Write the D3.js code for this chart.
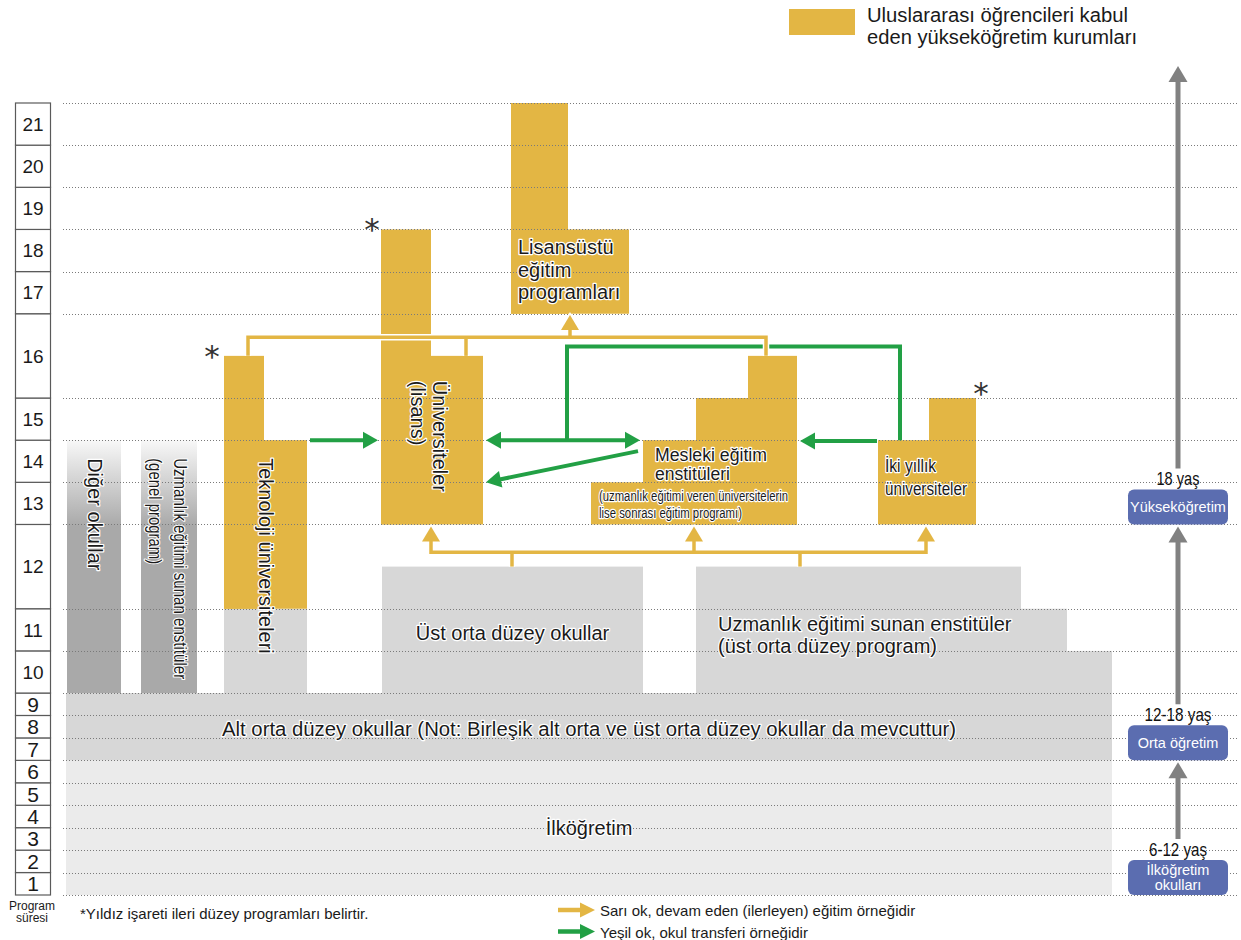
<!DOCTYPE html>
<html>
<head>
<meta charset="utf-8">
<script src="https://cdn.jsdelivr.net/npm/d3@7"></script>
<style>
    body {margin: 0; background: #fff;}
    svg {display: block; font-family: "Liberation Sans", Arial, sans-serif;}
</style>
</head>
<body>
<div id="container"></div>
<script>
// ---------- data ----------
// program years shown on the left scale
const programYears = d3.range(1, 22);
const doubleYears = [12, 16];       // rows drawn twice as tall
const compulsoryYears = 9;          // rows 1-9 are drawn compact

// year span of every school block: [id, from year, to year]
const blockYears = [
    ['ilk', 0, 6], ['alt', 6, 9],
    ['diger', 9, 14], ['uzmGenel', 9, 14],
    ['tekAlt', 9, 11], ['tek', 11, 14], ['tekKule', 11, 15.5],
    ['lisans', 12, 15.5], ['lisansKule', 12, 18],
    ['lisansustu', 16, 18], ['lisansustuKule', 16, 21],
    ['mesleki1', 12, 13], ['mesleki2', 12, 14], ['mesleki3', 12, 15], ['mesleki4', 12, 15.5],
    ['ikiYil', 12, 14], ['ikiYilKule', 12, 15],
    ['ustOrta', 9, 11.5],
    ['uzmUst1', 9, 11.5], ['uzmUst2', 9, 11], ['uzmUst3', 9, 10]
];

// blocks with an advanced (*) program
const advancedBlocks = ['tekKule', 'lisansKule', 'ikiYilKule'];

// stages on the right side
const stages = [
    {name: ['İlköğretim', 'okulları'], age: '6-12 yaş', start: 0},
    {name: ['Orta öğretim'], age: '12-18 yaş', start: 6},
    {name: ['Yükseköğretim'], age: '18 yaş', start: 12}
];

const legendTitle = ['Uluslararası öğrencileri kabul', 'eden yükseköğretim kurumları'];
const arrowLegend = ['Sarı ok, devam eden (ilerleyen) eğitim örneğidir', 'Yeşil ok, okul transferi örneğidir'];
const footnote = '*Yıldız işareti ileri düzey programları belirtir.';
const axisTitle = ['Program', 'süresi'];

// ---------- layout ----------
const W = 1241;
const H = 940;
const gridTop = 103;
const gridBottom = 895;
const gridLeft = 63;
const gridRight = 1238;
const COLORS = {
    intl: '#e3b644', dark: '#a9a9a9', mid: '#d7d7d7', light: '#ebebeb',
    green: '#22a045', arrow: '#818181', stage: '#5b6db0', text: '#1a1a1a'
};

// horizontal extent of every block, in grid units, and its tone
const columns = {
    ilk: [0, 1046, 'light'], alt: [0, 1046, 'mid'],
    diger: [1, 55, 'fade'], uzmGenel: [75, 131, 'fade'],
    tekAlt: [158, 241, 'mid'], tek: [158, 241, 'intl'], tekKule: [158, 198, 'intl'],
    lisans: [315, 417, 'intl'], lisansKule: [315, 365, 'intl'],
    lisansustu: [445, 563, 'intl'], lisansustuKule: [445, 502, 'intl'],
    mesleki1: [525, 731, 'intl'], mesleki2: [577, 731, 'intl'],
    mesleki3: [630, 731, 'intl'], mesleki4: [682, 731, 'intl'],
    ikiYil: [812, 910, 'intl'], ikiYilKule: [863, 910, 'intl'],
    ustOrta: [316, 577, 'mid'],
    uzmUst1: [630, 955, 'mid'], uzmUst2: [630, 1001, 'mid'], uzmUst3: [630, 1046, 'mid']
};

// arrows: points in [grid unit, year]
const progressionLinks = [
    {pts: [[182, 15.5], [182, 15.72], [700, 15.72], [700, 15.5]]},
    {pts: [[400, 15.72], [400, 15.5]]},
    {pts: [[504, 15.72], [504, 15.985]], end: true},
    {pts: [[365, 11.975], [365, 11.67], [860, 11.67], [860, 11.975]], start: true, end: true},
    {pts: [[628, 11.67], [628, 11.975]], end: true},
    {pts: [[446, 11.5], [446, 11.67]]},
    {pts: [[734, 11.5], [734, 11.67]]}
];
const transferLinks = [
    {pts: [[244, 14], [312, 14]], end: true},
    {pts: [[420, 14], [574, 14]], start: true, end: true},
    {pts: [[501, 14], [501, 15.61], [834, 15.61], [834, 14]]},
    {pts: [[572, 13.74], [420, 13]], end: true},
    {pts: [[811, 13.98], [734, 13.98]], end: true}
];

// ---------- scales ----------
const rowWeight = yr => (yr <= compulsoryYears ? 1 : 1.878) * (doubleYears.includes(yr) ? 2 : 1);
const cum = [0];
programYears.forEach(yr => cum.push(cum[cum.length - 1] + rowWeight(yr)));
const total = cum[cum.length - 1];
const y = d3.scaleLinear()
    .domain(d3.range(0, programYears.length + 1))
    .range(cum.map(c => gridBottom - c / total * (gridBottom - gridTop)));
const x = d3.scaleLinear().domain([0, 1046]).range([66, 1112]);

const svg = d3.select('#container')
    .append('svg')
    .attr('width', W)
    .attr('height', H);

const grad = svg.append('defs').append('linearGradient')
    .attr('id', 'fade').attr('x1', 0).attr('y1', 0).attr('x2', 0).attr('y2', 1);
grad.append('stop').attr('offset', 0).attr('stop-color', '#f8f8f8');
grad.append('stop').attr('offset', 0.34).attr('stop-color', COLORS.dark);
grad.append('stop').attr('offset', 1).attr('stop-color', COLORS.dark);

// ---------- blocks ----------
const blocks = blockYears.map(([id, from, to]) => ({
    id, from, to, x0: columns[id][0], x1: columns[id][1], tone: columns[id][2]
}));
const byId = {};
blocks.forEach(b => { byId[b.id] = b; });

svg.append('g')
    .selectAll('rect')
    .data(blocks)
    .join('rect')
    .attr('x', d => x(d.x0))
    .attr('width', d => x(d.x1) - x(d.x0))
    .attr('y', d => y(d.to))
    .attr('height', d => y(d.from) - y(d.to))
    .attr('fill', d => d.tone === 'fade' ? 'url(#fade)' : COLORS[d.tone]);

// dotted year lines
svg.append('g')
    .selectAll('line')
    .data(d3.range(0, programYears.length + 1))
    .join('line')
    .attr('x1', gridLeft)
    .attr('x2', gridRight)
    .attr('y1', d => Math.round(y(d)) + 0.5)
    .attr('y2', d => Math.round(y(d)) + 0.5)
    .attr('stroke', '#7a7a7a')
    .attr('stroke-dasharray', '1 2');

// ---------- program year scale ----------
const axisG = svg.append('g');
const rows = programYears.map(yr => ({yr, rowTop: y(yr), rowBottom: y(yr - 1)}));
axisG.selectAll('rect')
    .data(rows)
    .join('rect')
    .attr('x', 15.5)
    .attr('width', 35)
    .attr('y', d => d.rowTop)
    .attr('height', d => d.rowBottom - d.rowTop)
    .attr('fill', '#fff')
    .attr('stroke', '#5a5a5a')
    .attr('stroke-width', 1.2);
axisG.selectAll('text')
    .data(rows)
    .join('text')
    .attr('x', 33)
    .attr('y', d => (d.rowTop + d.rowBottom) / 2 + (d.yr <= compulsoryYears ? 7.5 : 6.8))
    .attr('text-anchor', 'middle')
    .attr('font-size', d => d.yr <= compulsoryYears ? 21 : 19)
    .attr('fill', COLORS.text)
    .text(d => d.yr);
axisTitle.forEach((t, i) => {
    svg.append('text').attr('x', 32).attr('y', 910 + i * 12)
        .attr('text-anchor', 'middle').attr('font-size', 12).attr('fill', COLORS.text).text(t);
});

// ---------- arrows ----------
function withHeads(pts, start, end, len, wid) {
    const p = pts.map(d => d.slice());
    const heads = [];
    const cut = (tip, prev) => {
        const [tx, ty] = p[tip];
        const [px, py] = p[prev];
        const L = Math.hypot(tx - px, ty - py);
        const ux = (tx - px) / L;
        const uy = (ty - py) / L;
        const bx = tx - ux * len;
        const by = ty - uy * len;
        heads.push([[tx, ty], [bx - uy * wid / 2, by + ux * wid / 2], [bx + uy * wid / 2, by - ux * wid / 2]]);
        p[tip] = [bx + ux, by + uy];
    };
    if (end) cut(p.length - 1, p.length - 2);
    if (start) cut(0, 1);
    return {line: p, heads};
}

function drawArrows(g, links, color, width, len, wid, halo) {
    const shapes = links.map(l => withHeads(l.pts, l.start, l.end, len, wid));
    const lineGen = d3.line();
    const layers = halo ? [['#fff', width + 3], [color, width]] : [[color, width]];
    layers.forEach(([c, w]) => {
        shapes.forEach(s => {
            g.append('path').attr('d', lineGen(s.line)).attr('fill', 'none')
                .attr('stroke', c).attr('stroke-width', w).attr('stroke-linejoin', 'miter');
            s.heads.forEach(h => {
                g.append('path').attr('d', lineGen(h) + 'Z').attr('fill', c)
                    .attr('stroke', c === color ? 'none' : c).attr('stroke-width', 3);
            });
        });
    });
}

const toPx = links => links.map(l => ({...l, pts: l.pts.map(([u, yr]) => [x(u), y(yr)])}));
drawArrows(svg.append('g'), toPx(transferLinks), COLORS.green, 4, 15, 17, false);
drawArrows(svg.append('g'), toPx(progressionLinks), COLORS.intl, 3.5, 15, 18, true);

// ---------- labels ----------
const labelG = svg.append('g')
    .attr('fill', COLORS.text)
    .attr('stroke', '#fff')
    .attr('stroke-width', 2.4)
    .attr('stroke-linejoin', 'round')
    .attr('paint-order', 'stroke');

function label(text, px, py, size, opts = {}) {
    const t = labelG.append('text')
        .attr('x', px).attr('y', py)
        .attr('font-size', size)
        .attr('text-anchor', opts.anchor || 'start')
        .text(text);
    if (opts.len) t.attr('textLength', opts.len).attr('lengthAdjust', 'spacingAndGlyphs');
    return t;
}

function vlabel(text, cx, yTop, size, len) {
    const t = labelG.append('text')
        .attr('transform', `translate(${cx},${yTop}) rotate(90)`)
        .attr('dominant-baseline', 'central')
        .attr('font-size', size)
        .text(text);
    if (len) t.attr('textLength', len).attr('lengthAdjust', 'spacingAndGlyphs');
}

const blockLeft = id => x(byId[id].x0);
const blockMid = id => (x(byId[id].x0) + x(byId[id].x1)) / 2;
const blockTop = id => y(byId[id].to);

label('İlköğretim', blockMid('ilk'), blockTop('ilk') + 75, 20, {anchor: 'middle'});
label('Alt orta düzey okullar (Not: Birleşik alt orta ve üst orta düzey okullar da mevcuttur)',
    blockMid('alt'), blockTop('alt') + 43, 20, {anchor: 'middle', len: 734});
label('Üst orta düzey okullar', blockMid('ustOrta'), blockTop('ustOrta') + 73, 20, {anchor: 'middle'});
label('Uzmanlık eğitimi sunan enstitüler', blockLeft('uzmUst1') + 22, blockTop('uzmUst1') + 64, 20);
label('(üst orta düzey program)', blockLeft('uzmUst1') + 22, blockTop('uzmUst1') + 86, 20);

['Lisansüstü', 'eğitim', 'programları'].forEach((t, i) => {
    label(t, blockLeft('lisansustu') + 7, blockTop('lisansustu') + 25 + i * 22.5, 20);
});
label('Mesleki eğitim', blockLeft('mesleki2') + 12, blockTop('mesleki2') + 21, 18, {len: 112});
label('enstitüleri', blockLeft('mesleki2') + 12, blockTop('mesleki2') + 40, 18, {len: 75});
label('(uzmanlık eğitimi veren üniversitelerin', blockLeft('mesleki1') + 8, blockTop('mesleki1') + 18.5, 14, {len: 189});
label('lise sonrası eğitim programı)', blockLeft('mesleki1') + 8, blockTop('mesleki1') + 36, 14, {len: 143});
label('İki yıllık', blockLeft('ikiYil') + 7, blockTop('ikiYil') + 31.5, 18, {len: 51});
label('üniversiteler', blockLeft('ikiYil') + 7, blockTop('ikiYil') + 54.5, 18, {len: 82});

vlabel('Diğer okullar', blockMid('diger') + 1, blockTop('diger') + 18, 20);
vlabel('Uzmanlık eğitimi sunan enstitüler', blockMid('uzmGenel') + 11, blockTop('uzmGenel') + 18, 19, 221);
vlabel('(genel program)', blockMid('uzmGenel') - 14, blockTop('uzmGenel') + 18, 19, 106);
vlabel('Teknoloji üniversiteleri', blockMid('tek'), blockTop('tek') + 18, 20);
vlabel('Üniversiteler', blockMid('lisans') + 8, blockTop('lisans') + 25, 20);
vlabel('(lisans)', blockMid('lisans') - 14, blockTop('lisans') + 25, 20);

// asterisks for advanced programs
const starPos = {tekKule: [-12, -7], lisansKule: [-9, -7], ikiYilKule: [52, -12]};
advancedBlocks.forEach(id => {
    const [dx, dy] = starPos[id];
    svg.append('text')
        .attr('x', blockLeft(id) + dx)
        .attr('y', blockTop(id) + dy + 18)
        .attr('text-anchor', 'middle')
        .attr('font-family', 'DejaVu Sans')
        .attr('font-size', 31)
        .attr('fill', '#333')
        .text('*');
});

// ---------- stages on the right ----------
const stageG = svg.append('g');
const boxX = 1128;
const boxW = 100;
const boxH = 35;
const stageX = boxX + boxW / 2;
stages.forEach((s, i) => {
    const bottom = y(s.start);
    const boxTop = bottom - boxH;
    stageG.append('rect')
        .attr('x', boxX).attr('y', boxTop).attr('width', boxW).attr('height', boxH)
        .attr('rx', 6).attr('fill', COLORS.stage);
    s.name.forEach((t, j) => {
        stageG.append('text')
            .attr('x', stageX)
            .attr('y', s.name.length > 1 ? boxTop + 15 + j * 15 : boxTop + 23)
            .attr('text-anchor', 'middle')
            .attr('font-size', 14.5)
            .attr('fill', '#fff')
            .text(t);
    });
    const ageLen = {'6-12 yaş': 58, '12-18 yaş': 67, '18 yaş': 43}[s.age];
    stageG.append('text')
        .attr('x', stageX).attr('y', boxTop - 4)
        .attr('text-anchor', 'middle').attr('font-size', 19)
        .attr('textLength', ageLen).attr('lengthAdjust', 'spacingAndGlyphs')
        .attr('fill', '#111')
        .text(s.age);
    const tipY = i < stages.length - 1 ? y(stages[i + 1].start) + 2 : gridTop - 37;
    const arrow = withHeads([[stageX, boxTop - 21], [stageX, tipY]], false, true, 16, 19);
    stageG.append('path').attr('d', d3.line()(arrow.line)).attr('stroke', COLORS.arrow)
        .attr('stroke-width', 5).attr('fill', 'none');
    stageG.append('path').attr('d', d3.line()(arrow.heads[0]) + 'Z').attr('fill', COLORS.arrow);
});

// ---------- legends ----------
svg.append('rect').attr('x', 789).attr('y', 9).attr('width', 66).attr('height', 26).attr('fill', COLORS.intl);
legendTitle.forEach((t, i) => {
    svg.append('text').attr('x', 867).attr('y', 22 + i * 22)
        .attr('font-size', 19.5).attr('fill', COLORS.text)
        .attr('textLength', i === 0 ? 261 : 270).attr('lengthAdjust', 'spacingAndGlyphs')
        .text(t);
});

const legendG = svg.append('g');
[[COLORS.intl, 910], [COLORS.green, 931.5]].forEach(([c, ly], i) => {
    const a = withHeads([[558, ly], [595, ly]], false, true, 15, 15);
    legendG.append('path').attr('d', d3.line()(a.line)).attr('stroke', c).attr('stroke-width', 4.5);
    legendG.append('path').attr('d', d3.line()(a.heads[0]) + 'Z').attr('fill', c);
    legendG.append('text').attr('x', 600).attr('y', ly + 6)
        .attr('font-size', 15).attr('fill', COLORS.text).text(arrowLegend[i]);
});

svg.append('text').attr('x', 80).attr('y', 919)
    .attr('font-size', 15).attr('fill', COLORS.text).text(footnote);
</script>
</body>
</html>
